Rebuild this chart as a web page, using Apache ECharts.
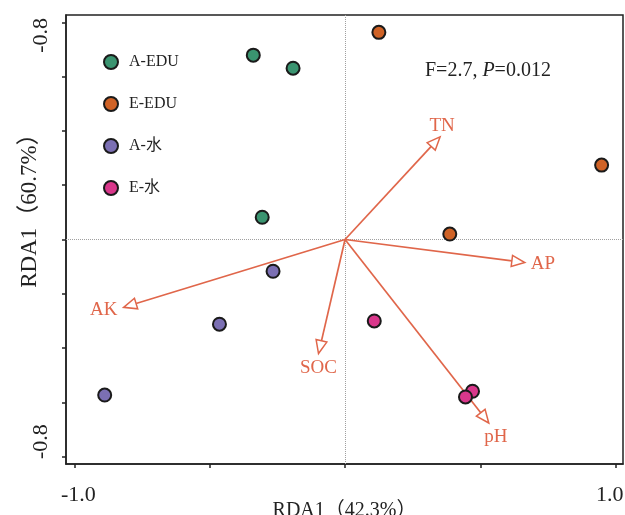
<!DOCTYPE html>
<html><head><meta charset="utf-8">
<script src="https://cdn.jsdelivr.net/npm/echarts@6/dist/echarts.min.js"></script>
<style>html,body{margin:0;padding:0;background:#fff}#c{width:625px;height:515px}</style>
</head><body><div id="c"></div>
<script>
// ---- data ----
const groupNames = ['A-EDU', 'E-EDU', 'A-水', 'E-水'];
const aEduX = [-0.339, -0.192, -0.306];
const aEduY = [0.679, 0.631, 0.082];
const eEduX = [0.125, 0.948, 0.387];
const eEduY = [0.763, 0.274, 0.020];
const aWaterX = [-0.266, -0.464, -0.888];
const aWaterY = [-0.117, -0.312, -0.573];
const eWaterX = [0.108, 0.471, 0.445];
const eWaterY = [-0.300, -0.559, -0.580];

const varNames = ['TN', 'AP', 'pH', 'AK', 'SOC'];
const varX = [0.351, 0.664, 0.531, -0.818, -0.098];
const varY = [0.378, -0.085, -0.676, -0.250, -0.420];

const xTickValues = [-1, -0.5, 0, 0.5, 1];
const xLabelValues = [-1, 1];
const xLabelTexts = ['-1.0', '1.0'];
const yTickValues = [-0.8, -0.6, -0.4, -0.2, 0, 0.2, 0.4, 0.6, 0.8];
const yLabelValues = [-0.8, 0.8];
const yLabelTexts = ['-0.8', '-0.8'];
const xTitle = 'RDA1（42.3%）';
const yTitle = 'RDA1（60.7%）';
const statText = 'F=2.7, {i|P}=0.012';

// ---- styles ----
const groupColors = ['#3a9470', '#cf6226', '#7b6fb3', '#d9378b'];
const arrowColor = '#e0664a';
const serif = '"Liberation Serif", "Times New Roman", "Noto Sans CJK SC", serif';
const labelOffsets = { TN: [2, -11, 'center'], AP: [6, 1, 'left'], pH: [7, 14, 'center'], AK: [-20, 3, 'center'], SOC: [0, 15, 'center'] };

const zip = (xs, ys) => xs.map((x, i) => [x, ys[i]]);
const groupData = [zip(aEduX, aEduY), zip(eEduX, eEduY), zip(aWaterX, aWaterY), zip(eWaterX, eWaterY)];

const chart = echarts.init(document.getElementById('c'), null, { renderer: 'canvas' });

const scatterSeries = groupNames.map((name, i) => ({
  type: 'scatter', name, data: groupData[i], symbol: 'circle', symbolSize: 13,
  itemStyle: { color: groupColors[i], borderColor: '#1a1a1a', borderWidth: 2, opacity: 1 },
  z: 5
}));
scatterSeries[0].markLine = {
  silent: true, symbol: 'none', label: { show: false },
  lineStyle: { type: 'dotted', color: '#a0a0a0', width: 1 },
  data: [{ xAxis: 0 }, { yAxis: 0 }], z: 1
};

const arrowSeries = {
  type: 'custom', name: 'vars', z: 4,
  data: varNames.map((n, i) => [varX[i], varY[i], n]),
  renderItem: function (params, api) {
    const o = api.coord([0, 0]);
    const t = api.coord([api.value(0), api.value(1)]);
    const name = varNames[params.dataIndex];
    const dx = t[0] - o[0], dy = t[1] - o[1];
    const len = Math.sqrt(dx * dx + dy * dy);
    const ux = dx / len, uy = dy / len;
    const hl = 13, hw = 5.5;
    const bx = t[0] - ux * hl, by = t[1] - uy * hl;
    const px = -uy, py = ux;
    const off = labelOffsets[name];
    return {
      type: 'group',
      children: [
        { type: 'line', shape: { x1: o[0], y1: o[1], x2: bx, y2: by }, style: { stroke: arrowColor, lineWidth: 1.7 } },
        { type: 'polygon', shape: { points: [[t[0], t[1]], [bx + px * hw, by + py * hw], [bx - px * hw, by - py * hw]] },
          style: { fill: '#fff', stroke: arrowColor, lineWidth: 1.5 } },
        { type: 'text', x: t[0] + off[0], y: t[1] + off[1], style: { text: name, fill: arrowColor, font: '19px ' + serif, align: off[2], verticalAlign: 'middle' } }
      ]
    };
  }
};

const tickFont = { fontFamily: serif, fontSize: 22, color: '#222' };

chart.setOption({
  backgroundColor: '#fff',
  animation: false,
  grid: { left: 66, right: 2, top: 15, bottom: 51, show: true, borderColor: '#222', borderWidth: 1.5, containLabel: false, outerBoundsMode: 'none' },
  xAxis: {
    type: 'value', min: -1.031, max: 1.027,
    name: xTitle, nameLocation: 'middle', nameGap: 37, nameMoveOverlap: false,
    nameTextStyle: { fontFamily: serif, fontSize: 20, color: '#222', verticalAlign: 'top' },
    axisLine: { show: true, onZero: false, lineStyle: { color: '#222', width: 1.5 } },
    axisTick: { show: true, length: 4, customValues: xTickValues, lineStyle: { color: '#222', width: 1.5 } },
    axisLabel: { customValues: xLabelValues, margin: 20, ...tickFont,
      formatter: v => {
        const i = xLabelValues.findIndex(u => Math.abs(u - v) < 1e-6);
        return '{' + (i === 0 ? 'l' : 'r') + '|' + xLabelTexts[i] + '}';
      },
      rich: { l: { ...tickFont, padding: [0, 0, 0, 8] }, r: { ...tickFont, padding: [0, 12, 0, 0] } } },
    splitLine: { show: false }
  },
  yAxis: {
    type: 'value', min: -0.827, max: 0.827,
    axisLine: { show: true, onZero: false, lineStyle: { color: '#222', width: 1.5 } },
    axisTick: { show: true, length: 4, customValues: yTickValues, lineStyle: { color: '#222', width: 1.5 } },
    axisLabel: { customValues: yLabelValues, rotate: 90, margin: 14, ...tickFont,
      formatter: v => {
        const i = yLabelValues.findIndex(u => Math.abs(u - v) < 1e-6);
        return '{' + (i === 0 ? 'b' : 't') + '|' + yLabelTexts[i] + '}';
      },
      rich: { b: { ...tickFont, padding: [0, 0, 0, 30] }, t: { ...tickFont, padding: [0, 26, 0, 0] } } },
    splitLine: { show: false }
  },
  legend: {
    orient: 'vertical', left: 103, top: 54, padding: 0, itemGap: 26, itemWidth: 14, itemHeight: 14,
    icon: 'circle', data: groupNames,
    textStyle: { fontFamily: '"Liberation Serif", "Noto Sans CJK SC", serif', fontSize: 16, color: '#222', padding: [0, 0, 0, 6] }
  },
  graphic: [
    { type: 'text', left: 425, top: 61,
      style: { text: statText, font: '20px ' + serif, fill: '#222',
        rich: { i: { fontStyle: 'italic', fontFamily: serif, fontSize: 20, fill: '#222' } } } },
    { type: 'text', x: 30, y: 205, rotation: Math.PI / 2,
      style: { text: yTitle, font: '23px ' + serif, fill: '#222', align: 'center', verticalAlign: 'middle' } }
  ],
  series: [...scatterSeries, arrowSeries]
});
</script></body></html>
